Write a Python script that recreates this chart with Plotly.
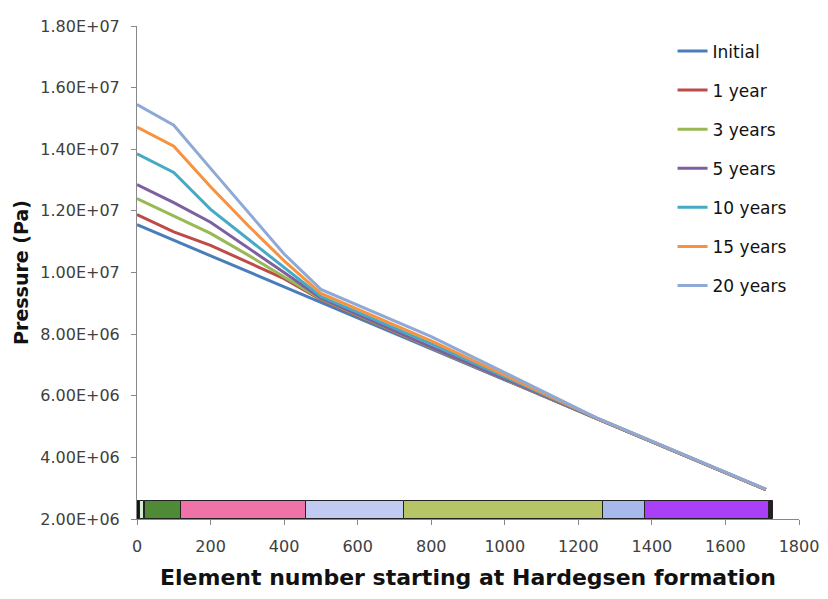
import plotly.graph_objects as go

# ---- data ----
elements = [0, 100, 200, 300, 400, 500, 800, 1000, 1250, 1710]

initial = [11.55e6, 11.05e6, 10.54e6, 10.04e6, 9.54e6, 9.03e6, 7.52e6, 6.52e6, 5.26e6, 2.95e6]
year_1 = [11.88e6, 11.32e6, 10.88e6, 10.34e6, 9.80e6, 9.12e6, 7.55e6, 6.53e6, 5.26e6, 2.95e6]
year_3 = [12.40e6, 11.83e6, 11.27e6, 10.58e6, 9.87e6, 9.14e6, 7.56e6, 6.54e6, 5.26e6, 2.95e6]
year_5 = [12.85e6, 12.27e6, 11.63e6, 10.82e6, 10.00e6, 9.17e6, 7.58e6, 6.55e6, 5.26e6, 2.95e6]
year_10 = [13.85e6, 13.25e6, 12.05e6, 11.10e6, 10.16e6, 9.22e6, 7.68e6, 6.60e6, 5.27e6, 2.96e6]
year_15 = [14.72e6, 14.10e6, 12.78e6, 11.55e6, 10.38e6, 9.32e6, 7.78e6, 6.66e6, 5.27e6, 2.96e6]
year_20 = [15.45e6, 14.78e6, 13.38e6, 11.98e6, 10.60e6, 9.45e6, 7.92e6, 6.75e6, 5.28e6, 2.97e6]

series_names = ["Initial", "1 year", "3 years", "5 years", "10 years", "15 years", "20 years"]
series_values = [initial, year_1, year_3, year_5, year_10, year_15, year_20]
series_colors = ["#4A7EBB", "#BE4B48", "#98B954", "#7D60A0", "#46AAC5", "#F69240", "#8EA9D6"]

# formation strip along the bottom (element ranges)
strip_start = [0, 7, 18, 22, 119, 460, 727, 1267, 1380, 1718]
strip_end = [7, 18, 22, 119, 460, 727, 1267, 1380, 1718, 1730]
strip_colors = ["#151515", "#d5ecd5", "#151515", "#4f8a36", "#ef73a7", "#c1caf0",
                "#b6c566", "#a6b9ea", "#a93ff6", "#2a1a2a"]
strip_base = 2.0e6
strip_top = 2.6e6

y_tickvals = [2e6, 4e6, 6e6, 8e6, 10e6, 12e6, 14e6, 16e6, 18e6]
y_ticktext = ["2.00E+06", "4.00E+06", "6.00E+06", "8.00E+06", "1.00E+07",
              "1.20E+07", "1.40E+07", "1.60E+07", "1.80E+07"]
x_tickvals = [0, 200, 400, 600, 800, 1000, 1200, 1400, 1600, 1800]

FONT = "DejaVu Sans, sans-serif"

fig = go.Figure()

# strip as bars
fig.add_trace(go.Bar(
    x=[(s + e) / 2 for s, e in zip(strip_start, strip_end)],
    y=[strip_top - strip_base] * len(strip_start),
    base=[strip_base] * len(strip_start),
    width=[e - s for s, e in zip(strip_start, strip_end)],
    marker=dict(color=strip_colors, line=dict(color="#222222", width=1)),
    showlegend=False, hoverinfo="skip",
))

for i, (name, vals, col) in enumerate(zip(series_names, series_values, series_colors)):
    fig.add_trace(go.Scatter(
        x=elements, y=vals, mode="lines", name=name,
        line=dict(color=col, width=3),
        legendgroup=f"g{i}",
    ))

# page body has an 8px margin, so the figure is sized/offset to compensate
fig.update_layout(
    width=820, height=591,
    margin=dict(l=129, r=28, t=9, b=80),
    paper_bgcolor="white", plot_bgcolor="white",
    font=dict(family=FONT, size=16, color="#404040"),
    bargap=0,
    legend=dict(
        x=0.809, y=0.985, xanchor="left", yanchor="top",
        font=dict(family=FONT, size=17, color="#111111"),
        tracegroupgap=14, bgcolor="rgba(0,0,0,0)", itemwidth=30,
    ),
    xaxis=dict(
        range=[0, 1800], tickvals=x_tickvals, ticks="outside", ticklen=5,
        tickcolor="#888888", showline=True, linecolor="#888888", linewidth=1,
        showgrid=False, zeroline=False, ticklabelstandoff=8,
        ticklabeloverflow="allow",
        tickfont=dict(family=FONT, size=16, color="#404040"),
        title=dict(text="<b>Element number starting at Hardegsen formation</b>",
                   font=dict(family=FONT, size=22, color="#111111"), standoff=14),
    ),
    yaxis=dict(
        range=[2e6, 1.8e7], tickvals=y_tickvals, ticktext=y_ticktext,
        ticks="outside", ticklen=5, tickcolor="#888888",
        showline=True, linecolor="#888888", linewidth=1,
        showgrid=False, zeroline=False, ticklabelstandoff=8,
        ticklabeloverflow="allow",
        tickfont=dict(family=FONT, size=16, color="#404040"),
        title=dict(text="<b>Pressure (Pa)</b>",
                   font=dict(family=FONT, size=19, color="#111111"), standoff=6),
    ),
)

fig.write_html("out.html")
